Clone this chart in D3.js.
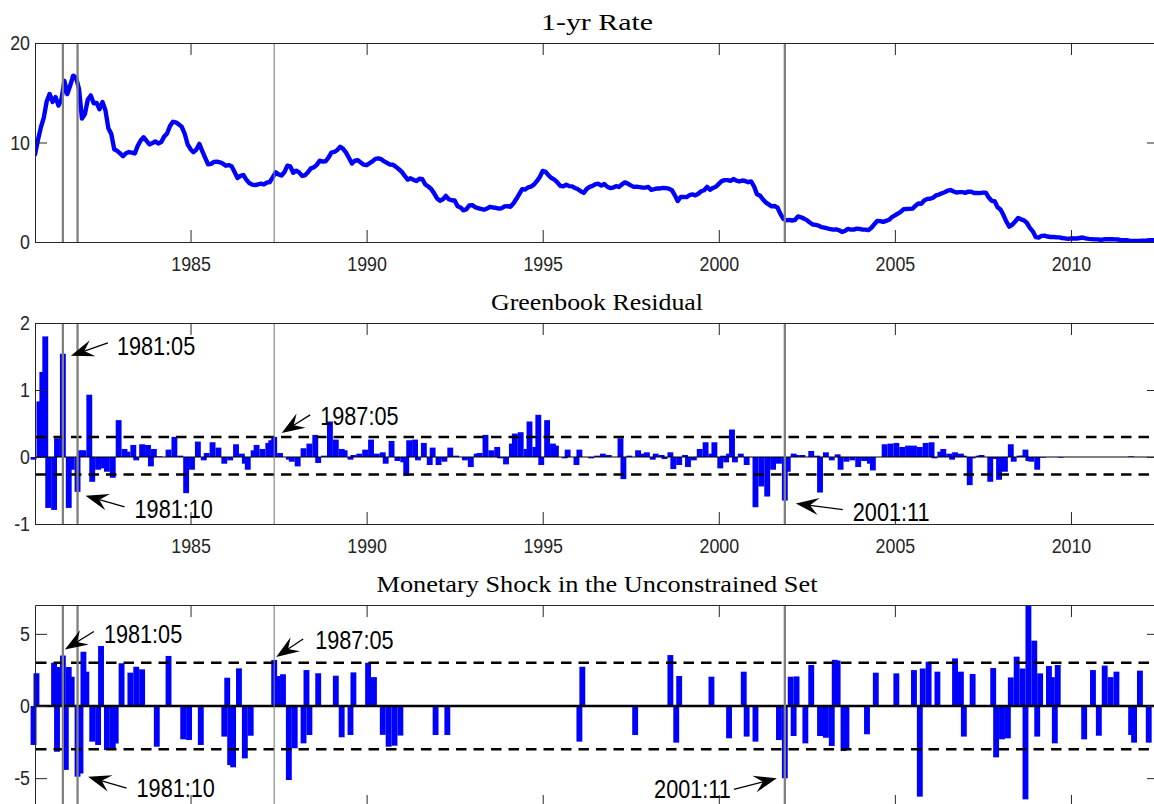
<!DOCTYPE html>
<html>
<head>
<meta charset="utf-8">
<script src="https://cdn.jsdelivr.net/npm/d3@7"></script>
<style>
  body { margin: 0; background: #fff; }
  svg { display: block; }
</style>
</head>
<body>
<svg id="chart" width="1154" height="804"></svg>
<script>
// ---------------------------------------------------------------------------
// Data
// ---------------------------------------------------------------------------

// Monthly 1-yr rate (percent), first observation 1980:07, last 2012:06
const rateStart = "1980:07";
const oneYearRate = [
  /*1980*/ 8.80, 10.24, 11.52, 12.49, 14.15, 14.88,
  /*1981*/ 14.08, 14.57, 13.71, 14.32, 16.20, 14.86, 15.72, 16.72, 16.52, 15.38, 12.41, 12.85,
  /*1982*/ 14.32, 14.73, 13.95, 13.98, 13.34, 14.07, 13.24, 11.43, 10.85, 9.32, 9.16, 8.91,
  /*1983*/ 8.62, 8.92, 9.04, 8.98, 8.90, 9.66, 10.20, 10.53, 10.16, 9.81, 9.94, 10.11,
  /*1984*/ 9.90, 10.04, 10.59, 10.90, 11.66, 12.08, 12.03, 11.82, 11.58, 10.90, 9.82, 9.33,
  /*1985*/ 9.02, 9.29, 9.86, 9.14, 8.46, 7.80, 7.86, 8.05, 8.07, 8.01, 7.88, 7.67,
  /*1986*/ 7.73, 7.61, 7.03, 6.44, 6.65, 6.73, 6.27, 5.93, 5.77, 5.72, 5.80, 5.87,
  /*1987*/ 5.78, 5.96, 6.03, 6.50, 7.00, 6.80, 6.68, 7.03, 7.67, 7.59, 6.96, 7.17,
  /*1988*/ 6.99, 6.64, 6.71, 7.01, 7.40, 7.49, 7.75, 8.17, 8.09, 8.11, 8.48, 8.99,
  /*1989*/ 9.05, 9.25, 9.57, 9.36, 8.98, 8.44, 7.89, 8.18, 8.22, 7.99, 7.77, 7.72,
  /*1990*/ 7.92, 8.11, 8.35, 8.40, 8.32, 8.10, 7.94, 7.78, 7.76, 7.55, 7.31, 7.05,
  /*1991*/ 6.64, 6.27, 6.40, 6.24, 6.13, 6.36, 6.31, 5.78, 5.57, 5.33, 4.89, 4.38,
  /*1992*/ 4.15, 4.29, 4.63, 4.30, 4.19, 4.17, 3.60, 3.47, 3.18, 3.30, 3.68, 3.71,
  /*1993*/ 3.50, 3.39, 3.33, 3.24, 3.36, 3.54, 3.47, 3.44, 3.36, 3.39, 3.58, 3.61,
  /*1994*/ 3.54, 3.87, 4.32, 4.82, 5.31, 5.27, 5.48, 5.56, 5.76, 6.11, 6.54, 7.14,
  /*1995*/ 7.05, 6.70, 6.43, 6.27, 6.00, 5.64, 5.59, 5.75, 5.62, 5.59, 5.43, 5.31,
  /*1996*/ 5.09, 4.94, 5.34, 5.54, 5.64, 5.81, 5.85, 5.67, 5.83, 5.55, 5.42, 5.47,
  /*1997*/ 5.61, 5.53, 5.80, 5.99, 5.87, 5.69, 5.54, 5.56, 5.52, 5.46, 5.46, 5.53,
  /*1998*/ 5.24, 5.31, 5.39, 5.38, 5.44, 5.41, 5.36, 5.21, 4.71, 4.12, 4.53, 4.52,
  /*1999*/ 4.51, 4.70, 4.78, 4.69, 4.85, 5.10, 5.20, 5.54, 5.25, 5.43, 5.55, 5.84,
  /*2000*/ 6.12, 6.22, 6.22, 6.15, 6.33, 6.17, 6.08, 6.18, 6.13, 6.01, 6.09, 5.60,
  /*2001*/ 4.81, 4.68, 4.30, 3.98, 3.78, 3.58, 3.62, 3.47, 2.82, 2.33, 2.18, 2.22,
  /*2002*/ 2.16, 2.23, 2.57, 2.48, 2.35, 2.20, 1.96, 1.76, 1.72, 1.65, 1.49, 1.45,
  /*2003*/ 1.36, 1.30, 1.24, 1.27, 1.18, 1.01, 1.12, 1.31, 1.24, 1.25, 1.34, 1.31,
  /*2004*/ 1.24, 1.24, 1.19, 1.43, 1.78, 2.12, 2.10, 2.02, 2.12, 2.23, 2.50, 2.67,
  /*2005*/ 2.86, 3.03, 3.30, 3.32, 3.33, 3.36, 3.64, 3.87, 3.85, 4.18, 4.33, 4.35,
  /*2006*/ 4.45, 4.68, 4.77, 4.90, 5.00, 5.16, 5.22, 5.08, 4.97, 5.01, 5.01, 4.94,
  /*2007*/ 5.06, 5.05, 4.92, 4.93, 4.91, 4.96, 4.96, 4.47, 4.14, 4.10, 3.50, 3.26,
  /*2008*/ 2.71, 2.05, 1.54, 1.74, 2.06, 2.42, 2.28, 2.18, 1.91, 1.42, 1.07, 0.49,
  /*2009*/ 0.44, 0.62, 0.64, 0.55, 0.50, 0.51, 0.48, 0.46, 0.40, 0.37, 0.31, 0.37,
  /*2010*/ 0.35, 0.35, 0.40, 0.45, 0.37, 0.32, 0.29, 0.26, 0.26, 0.23, 0.25, 0.29,
  /*2011*/ 0.27, 0.29, 0.26, 0.25, 0.19, 0.18, 0.19, 0.11, 0.10, 0.11, 0.11, 0.12,
  /*2012*/ 0.12, 0.16, 0.19, 0.18, 0.19, 0.19
];

// Greenbook residual at policy meetings
const residualDates = [
  "1980:07","1980:09","1980:10","1980:11","1980:12","1981:02","1981:03","1981:05","1981:07","1981:08",
  "1981:10","1981:11","1981:12","1982:02","1982:03","1982:05","1982:07","1982:08","1982:10","1982:12",
  "1983:02","1983:03","1983:05","1983:06","1983:08","1983:10","1983:11","1983:12","1984:02","1984:05",
  "1984:07","1984:09","1984:11","1985:01","1985:03","1985:05","1985:06","1985:08","1985:10","1985:12",
  "1986:02","1986:04","1986:06","1986:07","1986:08","1986:10","1986:11","1987:01","1987:03","1987:04",
  "1987:05","1987:07","1987:10","1987:11","1988:01","1988:03","1988:05","1988:07","1988:08","1988:10",
  "1988:12","1989:02","1989:04","1989:05","1989:07","1989:08","1989:10","1989:12","1990:01","1990:02",
  "1990:04","1990:06","1990:07","1990:09","1990:11","1991:01","1991:02","1991:03","1991:05","1991:06",
  "1991:08","1991:10","1991:11","1992:01","1992:02","1992:03","1992:05","1992:07","1992:10","1992:12",
  "1993:02","1993:03","1993:05","1993:07","1993:09","1993:10","1993:12","1994:02","1994:03","1994:05",
  "1994:07","1994:08","1994:10","1994:11","1994:12","1995:02","1995:04","1995:05","1995:08","1995:09",
  "1995:12","1996:01","1996:05","1996:07","1996:09","1996:11","1997:03","1997:04","1997:06","1997:09",
  "1997:10","1997:12","1998:02","1998:03","1998:05","1998:06","1998:08","1998:09","1998:11","1999:01",
  "1999:02","1999:04","1999:06","1999:08","1999:10","1999:11","2000:01","2000:02","2000:03","2000:04",
  "2000:05","2000:06","2000:08","2000:10","2001:01","2001:03","2001:05","2001:07","2001:09","2001:11",
  "2001:12","2002:02","2002:03","2002:05","2002:08","2002:10","2002:11","2003:01","2003:03","2003:05",
  "2003:06","2003:08","2003:10","2003:12","2004:02","2004:04","2004:05","2004:09","2004:11","2005:01",
  "2005:03","2005:05","2005:07","2005:09","2005:11","2006:01","2006:02","2006:04","2006:05","2006:07",
  "2006:08","2006:09","2006:11","2006:12","2007:02","2007:03","2007:05","2007:06","2007:09","2007:11",
  "2007:12","2008:02","2008:04","2008:05","2008:07","2008:08","2008:09","2008:10","2008:11","2009:01",
  "2009:03","2009:09","2011:09"
];
const residualValues = [
  -0.04, 0.83, 1.27, 1.80, -0.76, -0.79, 0.28, 1.54, -0.76, -0.19,
  -0.52, 0.10, 0.10, 0.93, -0.37, -0.19, -0.17, -0.22, -0.31, 0.55,
  0.12, 0.08, 0.18, -0.05, 0.19, 0.18, -0.14, 0.12, 0.01, 0.11,
  0.30, 0.02, -0.54, -0.19, 0.23, -0.05, 0.06, 0.22, 0.14, -0.10,
  -0.05, 0.19, 0.05, -0.10, -0.19, 0.10, 0.18, 0.12, 0.21, 0.25,
  0.30, 0.06, -0.04, -0.07, -0.14, 0.13, 0.20, 0.33, -0.09, 0.02,
  0.53, 0.26, 0.12, 0.10, -0.04, 0.03, 0.05, 0.11, 0.03, 0.26,
  0.05, 0.07, -0.10, 0.24, -0.06, -0.08, -0.28, 0.25, 0.26, -0.05,
  0.21, -0.12, 0.14, -0.12, -0.03, -0.07, 0.14, 0.02, -0.05, -0.15,
  0.05, 0.06, 0.33, 0.10, 0.15, -0.02, -0.11, 0.20, 0.35, 0.37,
  0.12, 0.53, 0.15, 0.63, -0.12, 0.55, 0.20, 0.17, -0.02, 0.11,
  -0.12, 0.11, -0.02, 0.02, 0.05, 0.03, 0.28, -0.33, 0.02, 0.10,
  0.05, 0.07, -0.04, 0.05, 0.03, -0.03, 0.07, -0.18, -0.12, 0.03,
  -0.15, -0.05, 0.12, 0.22, 0.05, 0.22, -0.17, 0.02, -0.08, 0.05,
  0.41, -0.08, 0.05, -0.12, -0.75, -0.44, -0.59, -0.19, -0.10, -0.65,
  -0.22, 0.05, 0.03, 0.03, 0.09, 0.02, -0.53, 0.07, -0.05, 0.04,
  -0.19, -0.07, -0.05, -0.15, -0.06, -0.10, -0.20, 0.19, 0.20, 0.21,
  0.15, 0.17, 0.17, 0.15, 0.21, 0.22, -0.02, 0.08, 0.12, 0.05,
  -0.04, 0.07, 0.05, 0.02, -0.42, -0.02, 0.02, 0.03, -0.37, -0.03,
  -0.34, -0.22, 0.19, -0.07, 0.02, 0.02, 0.11, -0.06, -0.07, -0.19,
  -0.01, -0.01, 0.01
];
const residualBands = [-0.26, 0.30];

// Monetary shock, unconstrained set
const shockDates = [
  "1980:07","1980:08","1981:02","1981:03","1981:04","1981:05","1981:06","1981:07","1981:08","1981:10",
  "1981:11","1981:12","1982:01","1982:03","1982:05","1982:06","1982:08","1982:10","1982:11","1983:01",
  "1983:04","1983:06","1983:08","1984:01","1984:05","1984:10","1984:12","1985:04","1985:12","1986:01",
  "1986:02","1986:03","1986:05","1986:07","1986:09","1987:05","1987:06","1987:08","1987:10","1987:12",
  "1988:03","1988:04","1988:05","1988:08","1989:02","1989:04","1989:07","1989:08","1990:01","1990:03",
  "1990:06","1990:08","1990:10","1990:12","1991:12","1992:04","1996:01","1996:02","1997:08","1998:08",
  "1998:10","1998:11","1999:10","2000:04","2000:09","2000:10","2001:01","2001:09","2001:11","2002:01",
  "2002:02","2002:03","2002:06","2002:08","2002:11","2003:01","2003:03","2003:04","2003:05","2003:07",
  "2003:08","2004:03","2004:06","2005:01","2005:07","2005:09","2005:10","2005:12","2006:03","2006:09",
  "2006:11","2006:12","2007:03","2007:10","2007:11","2008:01","2008:03","2008:04","2008:06","2008:08",
  "2008:09","2008:10","2008:12","2009:01","2009:02","2009:05","2009:06","2009:07","2009:08","2010:05",
  "2010:08","2010:10","2010:12","2011:02","2011:04","2011:09","2011:10","2011:12","2012:03"
];
const shockValues = [
  -2.70, 2.27, 3.00, -3.17, 2.70, 3.50, -4.43, 2.70, 2.03, -4.90,
  -4.68, 3.76, 2.38, -2.47, -2.70, 4.16, -3.05, -2.93, -2.60, 2.96,
  2.31, 2.72, 2.54, -2.82, 3.47, -2.31, -2.36, -2.70, -2.12, 1.96,
  -4.09, -4.25, 2.61, -3.63, -2.06, 3.19, 2.08, 2.20, -5.13, -2.93,
  -2.59, 2.49, -2.01, 2.27, 2.10, -2.17, -2.01, 2.33, 3.00, 2.00,
  -2.00, -2.82, -2.75, -2.05, -2.01, -2.01, -2.47, 2.72, -2.01, 3.53,
  -2.54, 2.08, 2.03, -2.24, 2.38, -2.12, -2.47, -2.36, -5.01, 2.03,
  -2.08, 2.05, -2.59, 2.84, -2.08, -2.20, -2.77, 3.20, 3.15, -3.12,
  -3.00, -1.96, 2.31, 2.26, 2.49, -6.28, 2.60, 3.07, 2.38, 3.30,
  2.38, -2.12, 2.22, 2.63, -3.56, -2.31, -2.24, 1.98, 3.42, 2.60,
  -6.47, 7.00, 4.53, -2.12, 2.26, 2.77, 2.00, -2.59, 2.84, -2.31,
  2.49, -2.06, 2.80, 2.00, 2.38, -2.01, -2.54, 2.45, -2.54
];
const shockBands = [-3, 3];

// Highlighted episodes
const eventDates = ["1981:05", "1981:10", "1987:05", "2001:11"];

// Tick values
const yearTicks = [1985, 1990, 1995, 2000, 2005, 2010];
const rateTicks = [0, 10, 20];
const residualTicks = [-1, 0, 1, 2];
const shockTicks = [-5, 0, 5];

// ---------------------------------------------------------------------------
// Helpers
// ---------------------------------------------------------------------------
const parseYM = s => s.split(":").map(Number);
const midMonth = s => { const [y, m] = parseYM(s); return y + (m - 0.5) / 12; };
const [rateY0, rateM0] = parseYM(rateStart);
const rateTime = i => rateY0 + (rateM0 + i) / 12;   // end-of-month position

const svg = d3.select("#chart");
const sansFont = "'Liberation Sans', Arial, Helvetica, sans-serif";
const serifFont = "'Liberation Serif', 'Times New Roman', serif";
const axisColor = "#262626";
const blue = "#0000ff";
const squeezeTick = 0.87;    // tick labels are set a little narrow
const squeezeNote = 0.85;

const x = d3.scaleLinear()
  .domain([rateTime(0), rateTime(oneYearRate.length - 1)])
  .range([35, 1159]);
const barWidth = x(2 / 12) - x(0);

const panels = [
  { title: "1-yr Rate", titleWidth: 112, top: 43, bottom: 242, domain: [0, 20], ticks: rateTicks, yearLabels: true },
  { title: "Greenbook Residual", titleWidth: 212, top: 323, bottom: 524, domain: [-1, 2], ticks: residualTicks, yearLabels: true,
    dates: residualDates, values: residualValues, bands: residualBands, zeroWidth: 1.2 },
  // the bottom panel runs past the lower page edge, so its year labels are not set
  { title: "Monetary Shock in the Unconstrained Set", titleWidth: 441, top: 605, bottom: 807, domain: [-7, 7], ticks: shockTicks, yearLabels: false,
    dates: shockDates, values: shockValues, bands: shockBands, zeroWidth: 2.6 }
];
panels.forEach(p => { p.y = d3.scaleLinear().domain(p.domain).range([p.bottom, p.top]); });

// Annotations: offsets (px) from the marked bar's end
const notes = [
  { panel: 1, date: "1981:05", tip: [8, 2],    tail: [45, -11], label: [54, 1],   anchor: "start" },
  { panel: 1, date: "1981:10", tip: [8, 4],    tail: [47, 15],  label: [57, 26],  anchor: "start" },
  { panel: 1, date: "1987:05", tip: [7.5, -4], tail: [36, -22], label: [46, -12], anchor: "start" },
  { panel: 1, date: "2001:11", tip: [11, 3],   tail: [58, 9],   label: [68, 20],  anchor: "start" },
  { panel: 2, date: "1981:05", tip: [2, -6],   tail: [31, -24], label: [41, -12.5], anchor: "start" },
  { panel: 2, date: "1981:10", tip: [10.5, 0], tail: [49, 11.5], label: [59, 20.5], anchor: "start" },
  { panel: 2, date: "1987:05", tip: [2, -3],   tail: [29, -21], label: [41, -11], anchor: "start" },
  { panel: 2, date: "2001:11", tip: [-8, 0],   tail: [-51, 11], label: [-54, 19.5], anchor: "end" }
];

// ---------------------------------------------------------------------------
// Drawing
// ---------------------------------------------------------------------------
panels.forEach((p, k) => {
  const g = svg.append("g");
  const y = p.y;

  // series
  if (k === 0) {
    g.append("clipPath").attr("id", "clipRate")
      .append("rect").attr("x", x.range()[0]).attr("y", p.top)
      .attr("width", x.range()[1] - x.range()[0]).attr("height", p.bottom - p.top);
    g.append("path")
      .datum(oneYearRate)
      .attr("clip-path", "url(#clipRate)")
      .attr("fill", "none")
      .attr("stroke", blue)
      .attr("stroke-width", 4.4)
      .attr("stroke-linejoin", "round")
      .attr("stroke-linecap", "round")
      .attr("d", d3.line().x((d, i) => x(rateTime(i))).y(d => y(d)));
  } else {
    const rows = p.dates.map((d, i) => ({ t: midMonth(d), v: p.values[i] }));
    g.append("g").selectAll("rect").data(rows).join("rect")
      .attr("x", d => x(d.t) - barWidth / 2)
      .attr("width", barWidth)
      .attr("y", d => Math.min(y(d.v), y(0)))
      .attr("height", d => Math.abs(y(d.v) - y(0)))
      .attr("fill", blue);

    // zero line and bands
    g.append("line")
      .attr("x1", x.range()[0]).attr("x2", x.range()[1])
      .attr("y1", y(0)).attr("y2", y(0))
      .attr("stroke", "#000").attr("stroke-width", p.zeroWidth);
    g.selectAll("line.band").data(p.bands).join("line")
      .attr("class", "band")
      .attr("x1", x.range()[0] + 1).attr("x2", x.range()[1])
      .attr("y1", d => y(d)).attr("y2", d => y(d))
      .attr("stroke", "#000").attr("stroke-width", 2.5)
      .attr("stroke-dasharray", "10.5,7");
  }

  // episode markers
  g.selectAll("line.event").data(eventDates).join("line")
    .attr("class", "event")
    .attr("x1", d => x(midMonth(d))).attr("x2", d => x(midMonth(d)))
    .attr("y1", p.top).attr("y2", p.bottom)
    .attr("stroke", "#7f7f7f")
    .attr("stroke-width", d => d === "1987:05" ? 1.1 : 2.3);

  // axes (box with inward ticks)
  const styleAxis = sel => {
    sel.select(".domain").attr("stroke", axisColor).attr("stroke-width", 1);
    sel.selectAll(".tick line").attr("stroke", axisColor).attr("stroke-width", 1);
    sel.selectAll("text")
      .attr("fill", axisColor)
      .style("font-family", sansFont)
      .style("font-size", "20.5px");
  };
  const fmt = d => String(d);

  g.append("g").attr("transform", `translate(0,${p.bottom})`)
    .call(d3.axisBottom(x).tickValues(yearTicks).tickFormat(p.yearLabels ? fmt : "")
      .tickSizeInner(-12).tickSizeOuter(0).tickPadding(14))
    .call(styleAxis)
    .call(s => s.selectAll(".tick text").attr("transform", `scale(${squeezeTick},1)`));

  g.append("g").attr("transform", `translate(0,${p.top})`)
    .call(d3.axisTop(x).tickValues(yearTicks).tickFormat("").tickSizeInner(-12).tickSizeOuter(0))
    .call(styleAxis);

  g.append("g").attr("transform", `translate(${x.range()[0]},0)`)
    .call(d3.axisLeft(y).tickValues(p.ticks).tickFormat(fmt).tickSizeInner(-12).tickSizeOuter(0).tickPadding(5))
    .call(styleAxis)
    .call(s => s.selectAll(".tick text")
      .attr("x", -5 / squeezeTick)
      .attr("transform", `scale(${squeezeTick},1)`));

  g.append("g").attr("transform", `translate(${x.range()[1]},0)`)
    .call(d3.axisRight(y).tickValues(p.ticks).tickFormat("").tickSizeInner(-12).tickSizeOuter(0))
    .call(styleAxis);

  // title
  g.append("text")
    .attr("x", (x.range()[0] + x.range()[1]) / 2)
    .attr("y", p.top - 13)
    .attr("text-anchor", "middle")
    .attr("textLength", p.titleWidth)
    .attr("lengthAdjust", "spacingAndGlyphs")
    .style("font-family", serifFont)
    .style("font-size", "23.5px")
    .attr("fill", "#000")
    .text(p.title);
});

// arrows and date labels
const notesLayer = svg.append("g");
function arrowHead(x1, y1, x2, y2) {
  const L = 23, W = 17, notch = 0.62;
  const a = Math.atan2(y2 - y1, x2 - x1);
  const ux = Math.cos(a), uy = Math.sin(a);
  const px = -uy, py = ux;
  const bx = x2 - L * ux, by = y2 - L * uy;
  return [
    [x2, y2],
    [bx + px * W / 2, by + py * W / 2],
    [x2 - notch * L * ux, y2 - notch * L * uy],
    [bx - px * W / 2, by - py * W / 2]
  ];
}
notes.forEach(n => {
  const p = panels[n.panel];
  const v = p.values[p.dates.indexOf(n.date)];
  const ax = x(midMonth(n.date)), ay = p.y(v);
  const tx = ax + n.tip[0], ty = ay + n.tip[1];
  const sx = ax + n.tail[0], sy = ay + n.tail[1];
  const head = arrowHead(sx, sy, tx, ty);
  notesLayer.append("line")
    .attr("x1", sx).attr("y1", sy).attr("x2", head[2][0]).attr("y2", head[2][1])
    .attr("stroke", "#000").attr("stroke-width", 1.3);
  notesLayer.append("polygon")
    .attr("points", head.map(q => q.join(",")).join(" "))
    .attr("fill", "#000");
  notesLayer.append("text")
    .attr("transform", `translate(${ax + n.label[0]},${ay + n.label[1]}) scale(${squeezeNote},1)`)
    .attr("text-anchor", n.anchor)
    .style("font-family", sansFont)
    .style("font-size", "25.5px")
    .attr("fill", "#000")
    .text(n.date);
});
</script>
</body>
</html>
